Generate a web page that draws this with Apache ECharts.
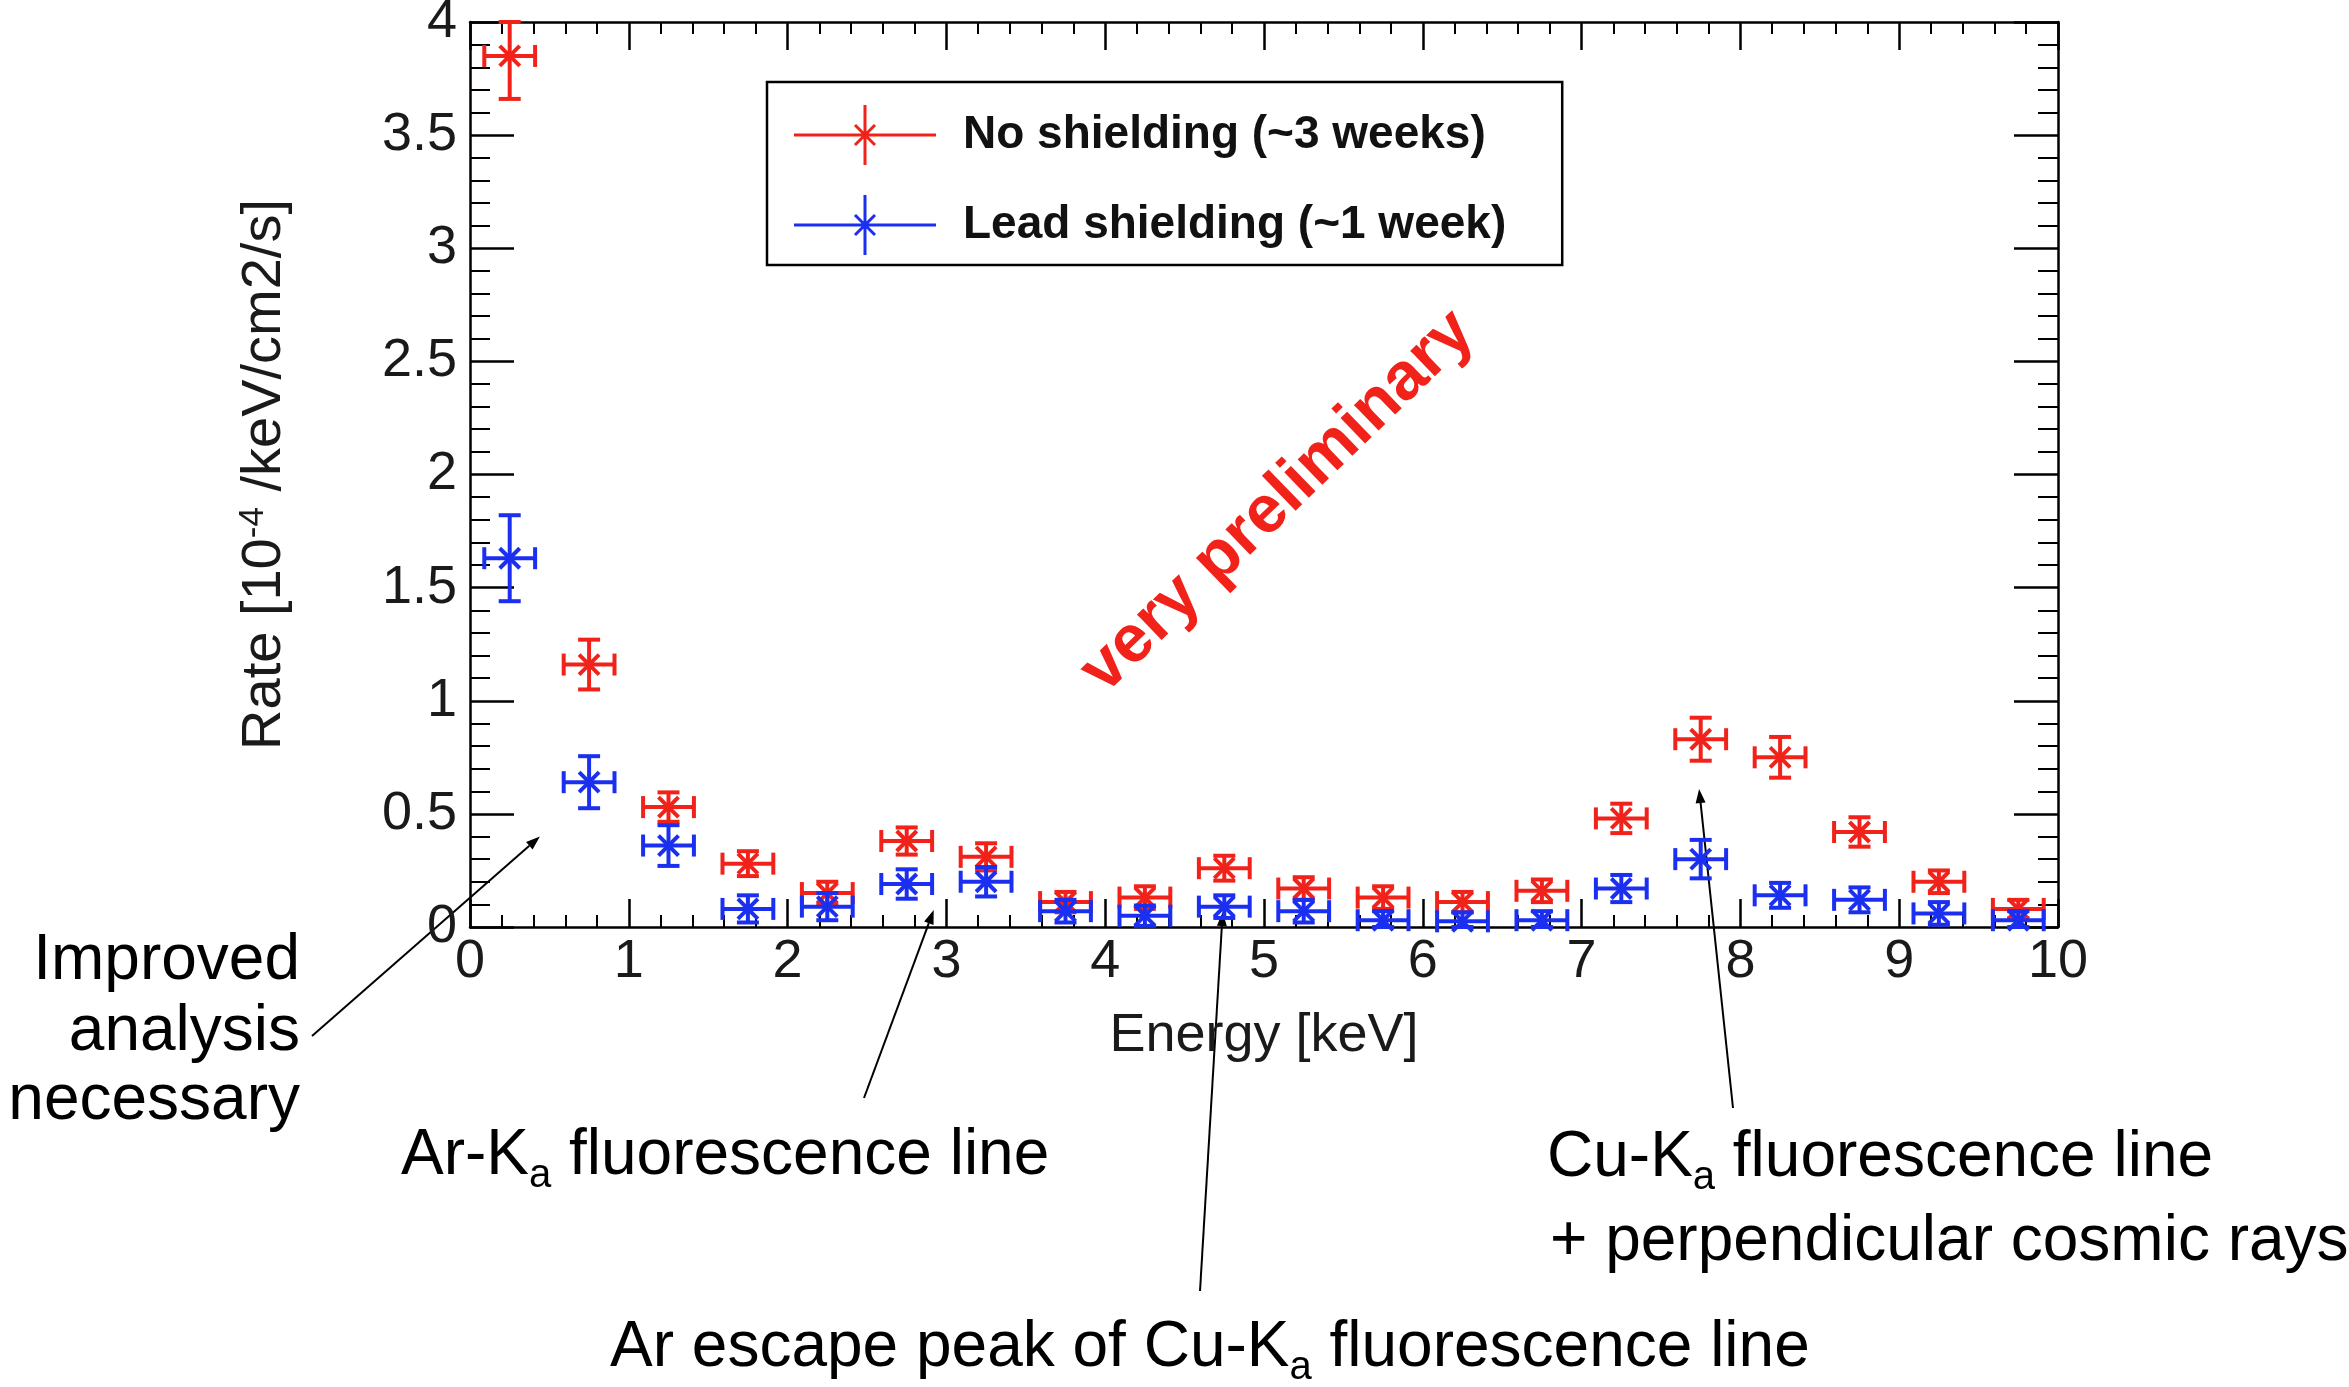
<!DOCTYPE html>
<html>
<head>
<meta charset="utf-8">
<title>Background rate vs energy</title>
<script src="https://cdn.jsdelivr.net/npm/echarts@6.0.0/dist/echarts.min.js"></script>
<style>
  html, body { margin: 0; padding: 0; background: #ffffff; }
  #chart { width: 2349px; height: 1387px; }
</style>
</head>
<body>
<div id="chart"></div>
<script>
// Energy bin centres [keV]
const energy = [0.25, 0.75, 1.25, 1.75, 2.25, 2.75, 3.25, 3.75, 4.25, 4.75,
                5.25, 5.75, 6.25, 6.75, 7.25, 7.75, 8.25, 8.75, 9.25, 9.75];

// Rate [1e-4 /keV/cm2/s], no shielding (~3 weeks)
const rateNoShield = [3.85, 1.16, 0.53, 0.28, 0.15, 0.38, 0.31, 0.11, 0.13, 0.26,
                      0.17, 0.13, 0.11, 0.16, 0.48, 0.83, 0.75, 0.42, 0.20, 0.08];
const errNoShield  = [0.19, 0.11, 0.065, 0.055, 0.05, 0.06, 0.06, 0.045, 0.05, 0.055,
                      0.05, 0.05, 0.045, 0.05, 0.065, 0.095, 0.09, 0.065, 0.05, 0.04];

// Rate [1e-4 /keV/cm2/s], lead shielding (~1 week)
const rateLead = [1.63, 0.64, 0.36, 0.08, 0.09, 0.19, 0.20, 0.07, 0.05, 0.09,
                  0.07, 0.03, 0.025, 0.03, 0.17, 0.30, 0.14, 0.12, 0.06, 0.03];
const errLead  = [0.19, 0.115, 0.09, 0.06, 0.06, 0.065, 0.065, 0.05, 0.045, 0.05,
                  0.05, 0.04, 0.04, 0.04, 0.06, 0.085, 0.055, 0.055, 0.05, 0.04];

const seriesNames = ['No shielding (~3 weeks)', 'Lead shielding (~1 week)'];
const xTicks = { min: 0, max: 10, interval: 1 };
const yTicks = { min: 0, max: 4, interval: 0.5 };
const xHalfWidth = 0.16;   // horizontal error bar half width [keV]

const RED = '#f0221a';
const BLUE = '#1a2ff0';
const FONT = '"Liberation Sans", Arial, Helvetica, sans-serif';

// error bars with end caps plus an asterisk marker
function errorGlyph(params, api) {
  const x = api.value(0), y = api.value(1), e = api.value(2);
  const lo = Math.max(y - e, yTicks.min);
  const hi = Math.min(y + e, yTicks.max);
  const c = api.coord([x, y]);
  const l = api.coord([x - xHalfWidth, y]);
  const r = api.coord([x + xHalfWidth, y]);
  const b = api.coord([x, lo]);
  const t = api.coord([x, hi]);
  const color = api.visual('color');
  const style = { stroke: color, lineWidth: 4, fill: null };
  const cap = 11, d = 10;
  const seg = (x1, y1, x2, y2) => ({ type: 'line', shape: { x1, y1, x2, y2 }, style });
  return {
    type: 'group',
    children: [
      seg(l[0], c[1], r[0], c[1]),
      seg(l[0], c[1] - cap, l[0], c[1] + cap),
      seg(r[0], c[1] - cap, r[0], c[1] + cap),
      seg(c[0], b[1], c[0], t[1]),
      seg(c[0] - cap, b[1], c[0] + cap, b[1]),
      seg(c[0] - cap, t[1], c[0] + cap, t[1]),
      seg(c[0] - d, c[1] - d, c[0] + d, c[1] + d),
      seg(c[0] - d, c[1] + d, c[0] + d, c[1] - d)
    ]
  };
}

// legend icon: horizontal line, vertical error bar and asterisk (142 x 60 box)
const LEGEND_ICON = 'path://' +
  'M0 28.5H142V31.5H0Z' +
  'M69.5 0H72.5V60H69.5Z' +
  'M59.94 21.06L62.06 18.94L82.06 38.94L79.94 41.06Z' +
  'M62.06 41.06L59.94 38.94L79.94 18.94L82.06 21.06Z';

const axisBase = {
  type: 'value',
  axisLine: { show: true, onZero: false, lineStyle: { color: '#000', width: 2.5 } },
  splitLine: { show: false }
};

const chart = echarts.init(document.getElementById('chart'), null, { renderer: 'canvas' });

chart.setOption({
  backgroundColor: '#ffffff',
  animation: false,
  grid: { left: 470, right: 291, top: 22, bottom: 460, outerBoundsMode: 'none', containLabel: false },
  xAxis: [
    Object.assign({}, axisBase, {
      position: 'bottom', min: xTicks.min, max: xTicks.max, interval: xTicks.interval,
      name: 'Energy [keV]', nameLocation: 'middle', nameGap: 82,
      nameTextStyle: { fontFamily: FONT, fontSize: 54, color: '#1a1a1a' },
      axisTick: { show: true, inside: true, length: 28, lineStyle: { color: '#000', width: 2.5 } },
      minorTick: { show: true, splitNumber: 5, length: 12, lineStyle: { color: '#000', width: 2 } },
      axisLabel: { show: true, margin: 8, fontFamily: FONT, fontSize: 54, color: '#1a1a1a' }
    }),
    Object.assign({}, axisBase, {
      position: 'top', min: xTicks.min, max: xTicks.max, interval: xTicks.interval,
      axisTick: { show: true, inside: true, length: 28, lineStyle: { color: '#000', width: 2.5 } },
      minorTick: { show: true, splitNumber: 5, length: 12, lineStyle: { color: '#000', width: 2 } },
      axisLabel: { show: false }
    })
  ],
  yAxis: [
    Object.assign({}, axisBase, {
      position: 'left', min: yTicks.min, max: yTicks.max, interval: yTicks.interval,
      name: 'Rate [10{sup|-4} /keV/cm2/s]', nameLocation: 'middle', nameGap: 176, nameRotate: 90,
      nameTextStyle: {
        fontFamily: FONT, fontSize: 56, color: '#1a1a1a', lineHeight: 58,
        rich: { sup: { fontFamily: FONT, fontSize: 35, lineHeight: 20, verticalAlign: 'top', color: '#1a1a1a' } }
      },
      axisTick: { show: true, inside: true, length: 44, lineStyle: { color: '#000', width: 2.5 } },
      minorTick: { show: true, splitNumber: 5, length: 20, lineStyle: { color: '#000', width: 2 } },
      axisLabel: { show: true, margin: 13, fontFamily: FONT, fontSize: 54, color: '#1a1a1a' }
    }),
    Object.assign({}, axisBase, {
      position: 'right', min: yTicks.min, max: yTicks.max, interval: yTicks.interval,
      axisTick: { show: true, inside: true, length: 44, lineStyle: { color: '#000', width: 2.5 } },
      minorTick: { show: true, splitNumber: 5, length: 20, lineStyle: { color: '#000', width: 2 } },
      axisLabel: { show: false }
    })
  ],
  legend: {
    left: 767, top: 82, orient: 'vertical',
    data: seriesNames.map(n => ({ name: n, icon: LEGEND_ICON })),
    itemWidth: 142, itemHeight: 60, itemGap: 30,
    padding: [23, 56, 10, 27],
    borderColor: '#000', borderWidth: 2.5, backgroundColor: '#ffffff',
    itemStyle: { borderWidth: 0 },
    selectedMode: false,
    textStyle: { fontFamily: FONT, fontWeight: 'bold', fontSize: 46, color: '#111', padding: [0, 0, 0, 22] }
  },
  series: [
    {
      type: 'custom', name: seriesNames[0], renderItem: errorGlyph, clip: false, z: 3,
      itemStyle: { color: RED },
      encode: { x: 0, y: 1 },
      data: energy.map((e, i) => [e, rateNoShield[i], errNoShield[i]])
    },
    {
      type: 'custom', name: seriesNames[1], renderItem: errorGlyph, clip: false, z: 4,
      itemStyle: { color: BLUE },
      encode: { x: 0, y: 1 },
      data: energy.map((e, i) => [e, rateLead[i], errLead[i]])
    }
  ]
});

// Annotations below the plot, with arrows pointing to data positions [keV, rate]
const annotations = [
  { from: [312, 1036], to: [0.44, 0.40] },
  { from: [864, 1098], to: [2.92, 0.075] },
  { from: [1200, 1291], to: [4.74, 0.066] },
  { from: [1733, 1108], to: [7.74, 0.61] }
];

// main text sits at the top of the line box, the subscript is pushed down by its top padding
const textRich = {
  m: { fontFamily: FONT, fontSize: 64, color: '#000', verticalAlign: 'top' },
  sub: { fontFamily: FONT, fontSize: 40, color: '#000', verticalAlign: 'bottom', padding: [32, 0, 0, 0] }
};

function label(x, y, text, align) {
  return {
    type: 'text', x: x, y: y, silent: true,
    style: { text: text, rich: textRich, align: align || 'left', verticalAlign: 'top', textAlign: align || 'left', textVerticalAlign: 'top' }
  };
}

function arrow(a) {
  const tip = chart.convertToPixel({ xAxisIndex: 0, yAxisIndex: 0 }, a.to);
  const sx = a.from[0], sy = a.from[1];
  const dx = tip[0] - sx, dy = tip[1] - sy;
  const len = Math.sqrt(dx * dx + dy * dy);
  const ux = dx / len, uy = dy / len;
  const hl = 14, hw = 5;
  const bx = tip[0] - ux * hl, by = tip[1] - uy * hl;
  return [
    { type: 'line', silent: true, shape: { x1: sx, y1: sy, x2: bx, y2: by }, style: { stroke: '#000', lineWidth: 2 } },
    { type: 'polygon', silent: true,
      shape: { points: [[tip[0], tip[1]], [bx - uy * hw, by + ux * hw], [bx + uy * hw, by - ux * hw]] },
      style: { fill: '#000' } }
  ];
}

// labels are placed by the top of their line box (text middle sits 32 px below)
const graphics = [];
annotations.forEach(a => arrow(a).forEach(g => graphics.push(g)));
graphics.push(label(300, 961 - 32, '{m|Improved}', 'right'));
graphics.push(label(300, 1032 - 32, '{m|analysis}', 'right'));
graphics.push(label(300, 1101 - 32, '{m|necessary}', 'right'));
graphics.push(label(401, 1156 - 32, '{m|Ar-K}{sub|a}{m| fluorescence line}'));
graphics.push(label(1547, 1158 - 32, '{m|Cu-K}{sub|a}{m| fluorescence line}'));
graphics.push(label(1550, 1242 - 32, '{m|+ perpendicular cosmic rays}'));
graphics.push(label(610, 1348 - 32, '{m|Ar escape peak of Cu-K}{sub|a}{m| fluorescence line}'));
graphics.push({
  type: 'text', x: 1278, y: 502, rotation: 44 * Math.PI / 180, silent: true, z: 10,
  style: {
    text: 'very preliminary', fill: RED,
    fontFamily: FONT, fontWeight: 'bold', fontSize: 67,
    align: 'center', verticalAlign: 'middle', textAlign: 'center', textVerticalAlign: 'middle'
  }
});

chart.setOption({ graphic: { elements: graphics } });
</script>
</body>
</html>
